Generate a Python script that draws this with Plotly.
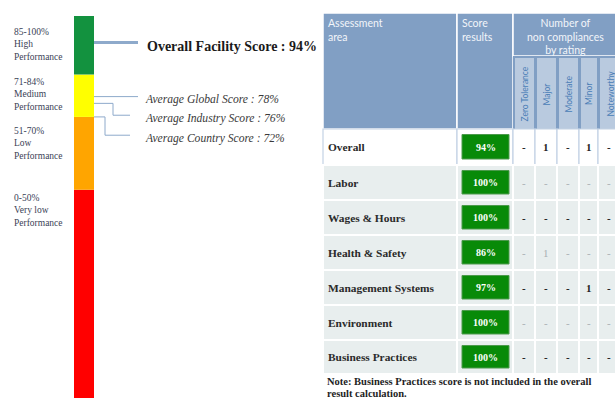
import plotly.graph_objects as go

# ---------------- data ----------------
band_ranges = ["0-50%", "51-70%", "71-84%", "85-100%"]
band_names = ["Very low", "Low", "Medium", "High"]
band_edges = [-11, 50.5, 72, 84.5, 101.8]          # drawn extents
band_colors = ["#FF0000", "#FFA500", "#FFFF00", "#13923F"]

overall_score = 94
avg_names = ["Global", "Industry", "Country"]
avg_scores = [78, 76, 72]

areas = ["Overall", "Labor", "Wages & Hours", "Health & Safety",
         "Management Systems", "Environment", "Business Practices"]
scores = [94, 100, 100, 86, 97, 100, 100]
ratings = ["Zero Tolerance", "Major", "Moderate", "Minor", "Noteworthy"]
counts = [
    [None, 1, None, 1, None],
    [None, None, None, None, None],
    [None, None, None, None, None],
    [None, 1, None, None, None],
    [None, None, None, 1, None],
    [None, None, None, None, None],
    [None, None, None, None, None],
]
note_lines = ["Note: Business Practices score is not included in the overall",
              "result calculation."]

W, H = 615, 404

fig = go.Figure()

heights = [band_edges[i + 1] - band_edges[i] for i in range(len(band_colors))]
fig.add_trace(go.Bar(
    x=[0] * len(heights), y=heights, base=band_edges[:-1],
    marker=dict(color=band_colors, line=dict(width=0)),
    width=1, xaxis="x2", yaxis="y2", hoverinfo="skip", showlegend=False,
))

shapes = []
ann = []
SERIF = "Liberation Serif"
SANS = "Lato"

# band labels at left
label_tops = [191, 124, 75, 25]
for i in range(len(band_ranges)):
    ann.append(dict(x=12, y=label_tops[i], xref="x", yref="y", xanchor="left", yanchor="top",
                    text=f"{band_ranges[i]}<br>{band_names[i]}<br>Performance", showarrow=False,
                    align="left", font=dict(family=SERIF, size=9.5, color="#3A4256")))

# connectors
LC = "#8EAACB"
bar_right = 94
shapes.append(dict(type="line", xref="x", yref="y2", x0=bar_right, x1=138,
                   y0=overall_score, y1=overall_score, line=dict(color=LC, width=3)))
ann.append(dict(x=145, y=overall_score, xref="x", yref="y2", xanchor="left", yanchor="middle",
                yshift=-4, showarrow=False, text=f"<b>Overall Facility Score : {overall_score}%</b>",
                font=dict(family=SERIF, size=14, color="#1A1A1A")))

elbow_x = [None, 113, 105]
end_x = [138, 130, 130]
label_levels = [78, 72.5, 66.6]
for i, (nm, sc) in enumerate(zip(avg_names, avg_scores)):
    if elbow_x[i] is None:
        path = f"M {bar_right},{sc} L {end_x[i]},{sc}"
        lvl = sc
    else:
        lvl = label_levels[i]
        path = f"M {bar_right},{sc} L {elbow_x[i]},{sc} L {elbow_x[i]},{lvl} L {end_x[i]},{lvl}"
    shapes.append(dict(type="path", xref="x", yref="y2", path=path, line=dict(color=LC, width=1)))
    ann.append(dict(x=143, y=lvl, xref="x", yref="y2", xanchor="left", yanchor="middle",
                    yshift=-3, showarrow=False, text=f"<i>Average {nm} Score : {sc}%</i>",
                    font=dict(family=SERIF, size=11.6, color="#3A3A3A")))

# ---------------- table ----------------
HDR = "#819FC4"
SUB = "#B9CADF"
BODY = "#E8EEEE"
col_edges = [323, 457, 513, 535, 557, 579, 598, 625]
head_top, group_bot, head_bot = 13, 56, 129
row_edges = [129, 165, 200, 235, 270, 305, 340, 374]

def rect(x0, x1, y0, y1, fill, lc="white", lw=1.5):
    shapes.append(dict(type="rect", xref="x", yref="y", x0=x0, x1=x1, y0=y0, y1=y1,
                       fillcolor=fill, line=dict(color=lc, width=lw), layer="above"))

rect(col_edges[0], col_edges[1], head_top, head_bot, HDR)
rect(col_edges[1], col_edges[2], head_top, head_bot, HDR)
rect(col_edges[2], col_edges[-1], head_top, group_bot, HDR)
for j in range(len(ratings)):
    rect(col_edges[2 + j], col_edges[3 + j], group_bot, head_bot, HDR, lc=HDR, lw=0)
    rect(col_edges[2 + j] + 2, col_edges[3 + j] - 1, group_bot + 2, head_bot, SUB, lc=SUB, lw=0)
    ann.append(dict(x=(col_edges[2 + j] + min(col_edges[3 + j], 622)) / 2 + 0.5, y=94, xref="x", yref="y",
                    textangle=-90, showarrow=False, text=ratings[j], xanchor="center", yanchor="middle",
                    font=dict(family=SANS, size=8.5, color="#4A7DB6")))

ann.append(dict(x=326, y=15, xref="x", yref="y", xanchor="left", yanchor="top", align="left",
                showarrow=False, text="Assessment<br>area", font=dict(family=SANS, size=10.5, color="#F2F5FA")))
ann.append(dict(x=460, y=15, xref="x", yref="y", xanchor="left", yanchor="top", align="left",
                showarrow=False, text="Score<br>results", font=dict(family=SANS, size=10.5, color="#F2F5FA")))
ann.append(dict(x=565, y=15, xref="x", yref="y", xanchor="center", yanchor="top", align="center",
                showarrow=False, text="Number of<br>non compliances<br>by rating",
                font=dict(family=SANS, size=10.5, color="#F2F5FA")))

for r, area in enumerate(areas):
    y0, y1 = row_edges[r], row_edges[r + 1]
    ym = (y0 + y1) / 2
    if r == 0:
        fill, lc, lw = "white", "#C3D2E4", 1.2
    else:
        fill, lc, lw = BODY, "white", 2
    for c in range(len(col_edges) - 1):
        rect(col_edges[c], col_edges[c + 1], y0, y1, fill, lc=lc, lw=lw)
    ann.append(dict(x=326, y=ym, xref="x", yref="y", xanchor="left", yanchor="middle",
                    showarrow=False, text=f"<b>{area}</b>",
                    font=dict(family=SERIF, size=11.4, color="#2A2A2A")))
    rect(462, 509, y0 + 5.5, y1 - 6, "#088A08", lc="#4C9A4C", lw=1)
    ann.append(dict(x=485.5, y=ym, xref="x", yref="y", xanchor="center", yanchor="middle",
                    showarrow=False, text=f"<b>{scores[r]}%</b>",
                    font=dict(family=SERIF, size=10, color="white")))
    dark = (r % 2 == 0)
    for j, v in enumerate(counts[r]):
        txt = "-" if v is None else str(v)
        cx = (col_edges[2 + j] + min(col_edges[3 + j], 620)) / 2
        ann.append(dict(x=cx, y=ym, xref="x", yref="y",
                        xanchor="center", yanchor="middle", showarrow=False,
                        text=f"<b>{txt}</b>" if dark else txt,
                        font=dict(family=SERIF, size=11, color="#1E1E1E" if dark else "#A9AFB2")))

for line, yy in zip(note_lines, [381, 393]):
    ann.append(dict(x=325, y=yy, xref="x", yref="y", xanchor="left", yanchor="middle", align="left",
                    showarrow=False, text=f"<b>{line}</b>",
                    font=dict(family=SERIF, size=10.5, color="#1E1E1E")))

fig.update_layout(
    width=W, height=H, margin=dict(l=0, r=0, t=0, b=0),
    paper_bgcolor="white", plot_bgcolor="white", showlegend=False, barmode="overlay",
    xaxis=dict(range=[0, W], domain=[0, 1], visible=False, fixedrange=True),
    yaxis=dict(range=[H, 0], domain=[0, 1], visible=False, fixedrange=True),
    xaxis2=dict(range=[-0.5, 0.5], domain=[74 / W, 94 / W], anchor="y2", visible=False, fixedrange=True),
    yaxis2=dict(range=[-11, 101.8], domain=[(H - 398) / H, (H - 16) / H],
                anchor="x2", visible=False, fixedrange=True),
    shapes=shapes, annotations=ann,
)

fig.write_html("out.html", config={"displayModeBar": False},
               post_script="document.body.style.margin='0';document.body.style.overflow='hidden';")
